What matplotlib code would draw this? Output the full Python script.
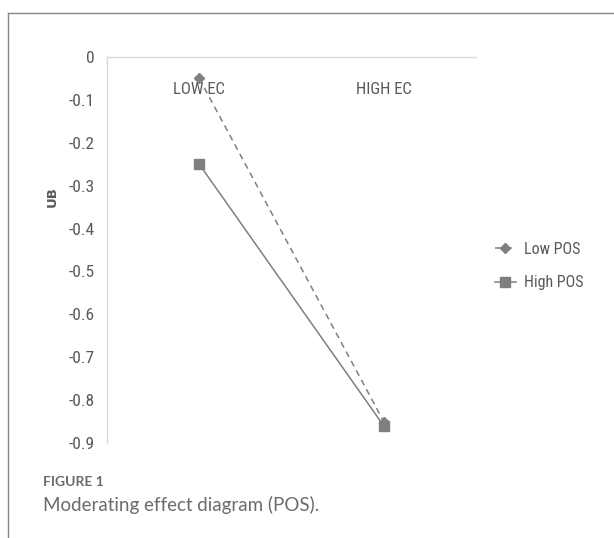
import numpy as np
import matplotlib
matplotlib.use("Agg")
import matplotlib.pyplot as plt
from matplotlib.lines import Line2D

# data
categories = ["LOW EC", "HIGH EC"]
low_pos = [-0.05, -0.85]
high_pos = [-0.25, -0.86]
yticks = [0, -0.1, -0.2, -0.3, -0.4, -0.5, -0.6, -0.7, -0.8, -0.9]
ytick_labels = ["0", "-0.1", "-0.2", "-0.3", "-0.4", "-0.5", "-0.6", "-0.7", "-0.8", "-0.9"]

narrow = ["Roboto Condensed", "Liberation Sans Narrow", "Roboto", "DejaVu Sans"]
W, H = 614, 538

fig = plt.figure(figsize=(W / 100, H / 100), dpi=100)
ax = fig.add_axes([107 / W, 1 - 443 / H, (476 - 107) / W, (443 - 57) / H])

x = np.arange(len(categories))
ax.plot(x, low_pos, color="#7f7f7f", lw=1.1, ls=(0, (4, 3)), marker="D",
        ms=5.5, label="Low POS")
ax.plot(x, high_pos, color="#7f7f7f", lw=1.1, ls="-", marker="s",
        ms=7, label="High POS")

ax.set_xlim(-0.5, 1.5)
ax.set_ylim(-0.9, 0)

for s in ["right", "bottom"]:
    ax.spines[s].set_visible(False)
for s in ["left", "top"]:
    ax.spines[s].set_color("#d9d9d9")
    ax.spines[s].set_linewidth(1.0)

ax.xaxis.tick_top()
ax.set_xticks(x)
ax.set_xticklabels(categories, family=narrow, fontsize=12, color="#595959")
ax.tick_params(axis="x", length=0, pad=-29)

ax.set_yticks(yticks)
ax.set_yticklabels(ytick_labels, family=narrow, fontsize=12.5, color="#595959")
ax.tick_params(axis="y", length=0, pad=9)

fig.text(52 / W, 1 - 197 / H, "UB", rotation=90, fontsize=9.5, fontweight="bold",
         color="#595959", ha="center", va="center")

leg = fig.legend(loc="upper left", bbox_to_anchor=(495 / W, 1 - 242 / H),
                 frameon=False, prop={"family": narrow, "size": 11.5},
                 handlelength=1.3, handletextpad=0.5, labelspacing=1.15,
                 borderpad=0, borderaxespad=0)
for t in leg.get_texts():
    t.set_color("#595959")

# outer frame, only top and left edges show
fig.add_artist(Line2D([7.5 / W, 1], [1 - 12.5 / H, 1 - 12.5 / H], color="#888888", lw=1.0))
fig.add_artist(Line2D([7.5 / W, 7.5 / W], [0, 1 - 12.5 / H], color="#888888", lw=1.0))

fig.text(43 / W, 1 - 482 / H, "FIGURE 1", family=["Lato", "DejaVu Sans"], fontsize=10,
         fontweight="bold", color="#6b6b6b", va="center")
fig.text(43 / W, 1 - 505 / H, "Moderating effect diagram (POS).", family=["Lato", "DejaVu Sans"],
         fontsize=13.5, color="#6b6b6b", va="center")

fig.savefig("out.png", dpi=100)
